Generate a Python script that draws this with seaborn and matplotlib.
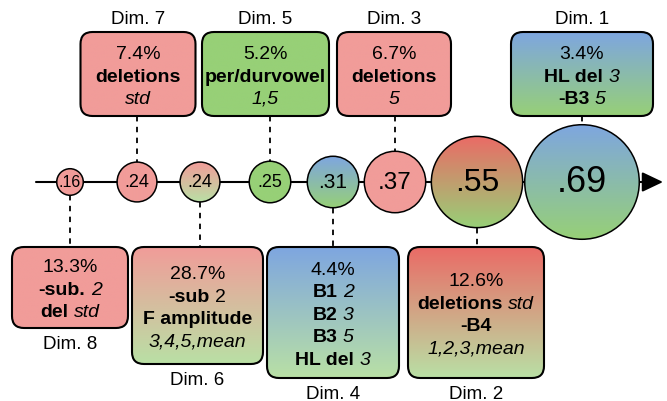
import numpy as np
import matplotlib
matplotlib.use("Agg")
import matplotlib.pyplot as plt
from matplotlib.patches import Circle, FancyBboxPatch
from matplotlib.colors import to_rgb
import pandas as pd
import seaborn as sns

# ---- data (ordered along the axis, left to right) ----
dims = ["Dim. 8", "Dim. 7", "Dim. 6", "Dim. 5", "Dim. 4", "Dim. 3", "Dim. 2", "Dim. 1"]
values = [0.16, 0.24, 0.24, 0.25, 0.31, 0.37, 0.55, 0.69]
value_labels = [".16", ".24", ".24", ".25", ".31", ".37", ".55", ".69"]
shares = ["13.3%", "7.4%", "28.7%", "5.2%", "4.4%", "6.7%", "12.6%", "3.4%"]
# each line is a list of (text, style) pieces: b = bold, i = italic, r = regular
features = [
    [[("-sub.", "b"), ("2", "i")], [("del", "b"), ("std", "i")]],
    [[("deletions", "b")], [("std", "i")]],
    [[("-sub", "b"), ("2", "r")], [("F amplitude", "b")], [("3,4,5,mean", "i")]],
    [[("per/durvowel", "b")], [("1,5", "i")]],
    [[("B1", "b"), ("2", "i")], [("B2", "b"), ("3", "i")], [("B3", "b"), ("5", "i")],
     [("HL del", "b"), ("3", "i")]],
    [[("deletions", "b")], [("5", "i")]],
    [[("deletions", "b"), ("std", "i")], [("-B4", "b")], [("1,2,3,mean", "i")]],
    [[("HL del", "b"), ("3", "i")], [("-B3", "b"), ("5", "i")]],
]
side = ["bottom", "top", "bottom", "top", "bottom", "top", "bottom", "top"]

# ---- colours ----
red, red_dark, green, green_light, blue = "#F19C99", "#EA6B66", "#97D077", "#B9E0A5", "#7EA6E0"
circle_top = [red, red, red, green, blue, red, red_dark, blue]
circle_bottom = [red, red, green_light, green, green, red, green, green]
box_top = [red, red, red, green, blue, red, red_dark, blue]
box_bottom = [red, red, green_light, green, green_light, red, green_light, green]

# ---- layout (pixels) ----
W, H = 667, 402
axis_y = 183
r_scale = 83
circle_x = [70, 137, 200, 270, 333, 395, 477, 582]
circle_fs = [11.5, 13, 13, 13, 15, 17.5, 23, 26]
box_cx = [70, 138, 197.5, 265.5, 333, 394, 476, 582]
box_w = [116, 115, 131, 127, 132, 114, 136, 142]
box_h = [81, 84, 117, 84, 131, 84, 131, 84]
top_box_y0, bottom_box_y0 = 33, 248
line_gap = 22.5
box_fs = 14
label_fs = 13.5

sns.set_theme(style="white")
plt.rcParams["font.family"] = ["Liberation Sans", "DejaVu Sans"]
plt.rcParams["text.color"] = "black"

fig = plt.figure(figsize=(W / 100, H / 100), dpi=100)
ax = fig.add_axes([0, 0, 1, 1])
renderer = fig.canvas.get_renderer()


def gradient(patch, top, bottom, extent, z):
    c1, c2 = np.array(to_rgb(top)), np.array(to_rgb(bottom))
    t = np.linspace(0, 1, 200)[:, None]
    img = (c1 * (1 - t) + c2 * t)[:, None, :]
    im = ax.imshow(img, extent=extent, aspect="auto", origin="upper",
                   interpolation="bilinear", zorder=z)
    im.set_clip_path(patch)


def rich_line(x, y, pieces, size):
    texts = []
    for txt, st in pieces:
        texts.append(ax.text(0, y, txt, fontsize=size, va="center", ha="left", zorder=6,
                             color="black",
                             fontweight="bold" if st == "b" else "normal",
                             fontstyle="italic" if st == "i" else "normal"))
    widths = [t.get_window_extent(renderer).width for t in texts]
    space = size * 0.278 * 100 / 72
    left = x - (sum(widths) + space * (len(texts) - 1)) / 2
    for t, w in zip(texts, widths):
        t.set_x(left)
        left += w + space


# main axis with arrow
ax.annotate("", xy=(663, axis_y), xytext=(36, axis_y), zorder=1,
            arrowprops=dict(arrowstyle="-|>,head_length=0.8,head_width=0.38",
                            lw=1.5, color="black", mutation_scale=16, shrinkA=0, shrinkB=0))

# circles: gradient fills + outlines through seaborn
radii = [r_scale * v for v in values]
for x, r, c1, c2 in zip(circle_x, radii, circle_top, circle_bottom):
    circ = Circle((x, axis_y), r, facecolor="none", edgecolor="none")
    ax.add_patch(circ)
    gradient(circ, c1, c2, (x - r, x + r, axis_y + r, axis_y - r), 3)

circles_df = pd.DataFrame({"x": circle_x, "y": [axis_y] * len(values),
                           "size": [(2 * r * 0.72) ** 2 for r in radii]})
sns.scatterplot(data=circles_df, x="x", y="y", s=circles_df["size"], ax=ax,
                facecolor="none", edgecolor="black", linewidth=1.1, zorder=4, legend=False)

for x, lab, fs in zip(circle_x, value_labels, circle_fs):
    ax.text(x, axis_y, lab, fontsize=fs, ha="center", va="center", zorder=6, color="black")

# boxes, connectors and dimension labels
for i in range(len(dims)):
    cx, w, h = box_cx[i], box_w[i], box_h[i]
    y0 = top_box_y0 if side[i] == "top" else bottom_box_y0
    y1 = y0 + h
    x0 = cx - w / 2
    box = FancyBboxPatch((x0, y0), w, h, boxstyle="round,pad=0,rounding_size=12",
                         facecolor="none", edgecolor="none")
    ax.add_patch(box)
    gradient(box, box_top[i], box_bottom[i], (x0, x0 + w, y1, y0), 3)
    ax.add_patch(FancyBboxPatch((x0, y0), w, h, boxstyle="round,pad=0,rounding_size=12",
                                facecolor="none", edgecolor="black", lw=1.5, zorder=5))

    lines = [[(shares[i], "r")]] + features[i]
    mid = (y0 + y1) / 2 + 2
    start = mid - line_gap * (len(lines) - 1) / 2
    for k, pieces in enumerate(lines):
        rich_line(cx, start + k * line_gap, pieces, box_fs)

    r = radii[i]
    if side[i] == "top":
        ax.plot([circle_x[i], circle_x[i]], [y1, axis_y - r], color="black", lw=1.3,
                ls=(0, (3, 3)), zorder=2)
        ax.text(cx, 20, dims[i], fontsize=label_fs, ha="center", va="center", color="black")
    else:
        ax.plot([circle_x[i], circle_x[i]], [axis_y + r, y0], color="black", lw=1.3,
                ls=(0, (3, 3)), zorder=2)
        ax.text(cx, y1 + 16, dims[i], fontsize=label_fs, ha="center", va="center",
                color="black")

ax.set_xlim(0, W)
ax.set_ylim(H, 0)
ax.axis("off")
fig.savefig("out.png", dpi=100)
